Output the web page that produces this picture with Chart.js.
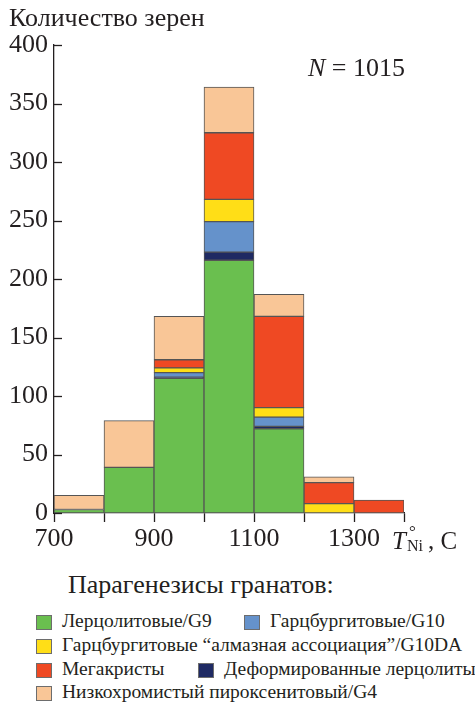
<!DOCTYPE html>
<html>
<head>
<meta charset="utf-8">
<script src="https://cdn.jsdelivr.net/npm/chart.js@4.4.1/dist/chart.umd.min.js"></script>
<style>
  html, body { margin: 0; padding: 0; background: #fff; }
  body { width: 475px; height: 702px; position: relative; overflow: hidden;
         font-family: 'Liberation Serif', 'Times New Roman', Times, Tinos, 'DejaVu Serif', 'Noto Serif', FreeSerif, serif; color: #231f20; }
  #wrap { position: absolute; left: 0; top: 0; width: 475px; height: 560px; }
  .txt { position: absolute; white-space: nowrap; line-height: 1; }
  .leg { position: absolute; white-space: nowrap; font-size: 19.5px; line-height: 1; }
  .sw { display: inline-block; width: 16px; height: 15px; border: 1px solid #6d6d6d;
        vertical-align: middle; margin-right: 10px; box-sizing: border-box; }
</style>
</head>
<body>
<div id="wrap"><canvas id="hist" width="475" height="560"></canvas></div>

<div class="txt" style="left:9px; top:5px; font-size:26px;">Количество зерен</div>
<div class="txt" style="left:308px; top:55px; font-size:26px;"><i>N</i> = 1015</div>
<div class="txt" style="left:392px; top:528px; font-size:25px;"><i>T</i><span style="display:inline-block; position:relative; width:22px; height:20px;"><span style="position:absolute; left:3px; top:-6px; font-size:17px;">°</span><span style="position:absolute; left:1px; top:9px; font-size:16px;">Ni</span></span>, C</div>

<div class="txt" style="left:68px; top:572px; font-size:26px;">Парагенезисы гранатов:</div>
<div id="legend"></div>

<script>
// bins (lower edges, °C) and counts per paragenesis
const binStarts = [700, 800, 900, 1000, 1100, 1200, 1300];
const lherzolite = [3, 39, 115, 216, 72, 0, 0];      // Лерцолитовые/G9
const deformed   = [0, 0, 1, 7, 2, 0, 0];            // Деформированные лерцолиты
const harzburg   = [0, 0, 4, 26, 8, 0, 0];           // Гарцбургитовые/G10
const diamondAs  = [0, 0, 4, 19, 8, 8, 0];           // "алмазная ассоциация"/G10DA
const megacryst  = [0, 0, 7, 57, 78, 18, 11];        // Мегакристы
const pyroxenite = [12, 40, 37, 39, 19, 5, 0];       // Низкохромистый пироксенитовый/G4

const xTickLabels = [700, 900, 1100, 1300];
const yMax = 400;
const yStep = 50;

const colors = {
    green: '#6abf4f',
    navy: '#1f2a63',
    blue: '#6592cb',
    yellow: '#ffde17',
    red: '#ef4923',
    peach: '#f9c697'
};

const ink = '#231f20';
const edge = '#555555';
const serif = "'Liberation Serif', 'Times New Roman', Times, Tinos, 'DejaVu Serif', 'Noto Serif', FreeSerif, serif";

function toPoints(arr) {
    return arr.map((v, i) => ({ x: binStarts[i] + 50, y: v === 0 ? null : v }));
}

function ds(label, arr, color) {
    return {
        label: label,
        data: toPoints(arr),
        backgroundColor: color,
        borderColor: edge,
        borderWidth: 1,
        borderSkipped: false,
        barPercentage: 1,
        categoryPercentage: 1
    };
}

// y ticks point inward (to the right of the axis)
const inwardTicks = {
    id: 'inwardTicks',
    afterDraw: (chart) => {
        const ctx = chart.ctx;
        const y = chart.scales.y;
        ctx.save();
        ctx.strokeStyle = ink;
        ctx.lineWidth = 1.3;
        y.ticks.forEach(t => {
            const py = Math.round(y.getPixelForValue(t.value)) + 0.5;
            ctx.beginPath();
            ctx.moveTo(y.right, py);
            ctx.lineTo(y.right + 8, py);
            ctx.stroke();
        });
        ctx.restore();
    }
};

const ctx = document.getElementById('hist').getContext('2d');
new Chart(ctx, {
    type: 'bar',
    data: {
        datasets: [
            ds('Лерцолитовые/G9', lherzolite, colors.green),
            ds('Деформированные лерцолиты', deformed, colors.navy),
            ds('Гарцбургитовые/G10', harzburg, colors.blue),
            ds('Гарцбургитовые “алмазная ассоциация”/G10DA', diamondAs, colors.yellow),
            ds('Мегакристы', megacryst, colors.red),
            ds('Низкохромистый пироксенитовый/G4', pyroxenite, colors.peach)
        ]
    },
    options: {
        responsive: false,
        animation: false,
        layout: { padding: { top: 45, right: 71, left: 0, bottom: 0 } },
        plugins: { legend: { display: false }, tooltip: { enabled: false } },
        scales: {
            x: {
                type: 'linear',
                stacked: true,
                offset: false,
                min: 700, max: 1400,
                afterBuildTicks: s => { s.ticks = binStarts.concat([1400]).map(v => ({ value: v })); },
                afterFit: s => { s.height = 47; s.paddingLeft = 0; s.paddingRight = 0; },
                grid: { drawOnChartArea: false, offset: false, tickLength: 9, color: ink, tickWidth: 1.3 },
                border: { display: true, color: ink, width: 1.3 },
                ticks: {
                    color: ink,
                    font: { family: serif, size: 26 },
                    padding: 2,
                    maxRotation: 0,
                    autoSkip: false,
                    callback: v => xTickLabels.includes(v) ? String(v) : ''
                }
            },
            y: {
                stacked: true,
                min: 0, max: yMax,
                afterFit: s => { s.width = 54; s.paddingTop = 0; s.paddingBottom = 0; },
                grid: { display: false, drawTicks: false },
                border: { display: true, color: ink, width: 1.3 },
                ticks: {
                    stepSize: yStep,
                    color: ink,
                    padding: 6,
                    font: { family: serif, size: 26 }
                }
            }
        }
    },
    plugins: [inwardTicks]
});

// legend rows as laid out in the figure
const legendItems = [
    { text: 'Лерцолитовые/G9', color: colors.green, left: 36, top: 611 },
    { text: 'Гарцбургитовые/G10', color: colors.blue, left: 244, top: 611 },
    { text: 'Гарцбургитовые “алмазная ассоциация”/G10DA', color: colors.yellow, left: 36, top: 635 },
    { text: 'Мегакристы', color: colors.red, left: 36, top: 659 },
    { text: 'Деформированные лерцолиты', color: colors.navy, left: 198, top: 659 },
    { text: 'Низкохромистый пироксенитовый/G4', color: colors.peach, left: 36, top: 682 }
];
const legendEl = document.getElementById('legend');
legendItems.forEach(it => {
    const d = document.createElement('div');
    d.className = 'leg';
    d.style.left = it.left + 'px';
    d.style.top = it.top + 'px';
    d.innerHTML = '<span class="sw" style="background:' + it.color + '"></span>' + it.text;
    legendEl.appendChild(d);
});
</script>
</body>
</html>
